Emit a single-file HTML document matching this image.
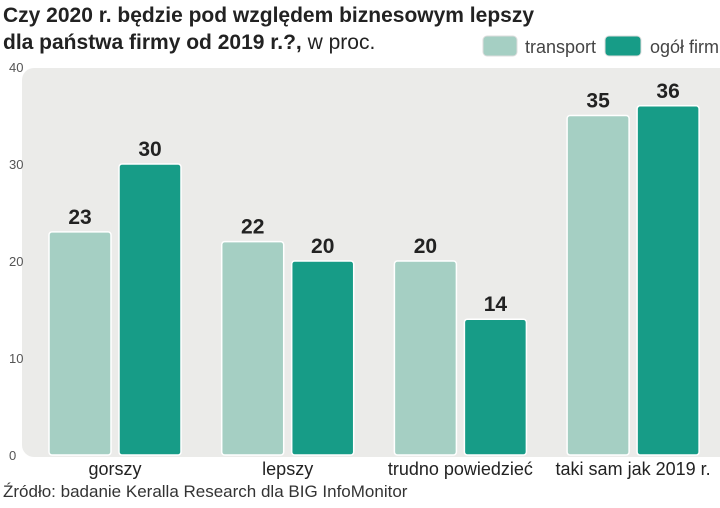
<!DOCTYPE html>
<html><head><meta charset="utf-8"><style>
body{margin:0;width:720px;height:503px;background:#fff;overflow:hidden;font-family:"Liberation Sans Narrow","Liberation Sans",sans-serif;}
svg text{font-family:"Liberation Sans Narrow","Liberation Sans",sans-serif;}
</style></head><body>
<svg width="720" height="503">
<text x="3" y="22" font-size="21" font-weight="bold" fill="#222">Czy 2020 r. będzie  pod względem biznesowym lepszy</text>
<text x="3" y="49" font-size="21" fill="#222"><tspan font-weight="bold">dla państwa firmy od 2019 r.?,</tspan> w proc.</text>
<g>
<rect x="483" y="36" width="34" height="20" rx="4" fill="#a5cfc3" stroke="#ddd"/>
<text x="525" y="53" font-size="18" fill="#444">transport</text>
<rect x="605" y="36" width="36" height="20" rx="4" fill="#179c87" stroke="#ddd"/>
<text x="650" y="53" font-size="18" fill="#444">ogół  firm</text>
</g>
<rect x="22" y="68" width="710" height="389" rx="12" fill="#ebebe9"/>
<g id="axis"></g><g id="bars"></g>
<text x="3" y="497" font-size="17" fill="#333">Źródło: badanie Keralla Research dla BIG InfoMonitor</text>
</svg>
<script>
const categories=["gorszy","lepszy","trudno powiedzieć","taki sam jak 2019 r."];
const transport=[23,22,20,35];
const ogolFirm=[30,20,14,36];
const ticks=[0,10,20,30,40];
const NS="http://www.w3.org/2000/svg";
const y=v=>455-v*9.7;
const gx=i=>49+i*172.7;
function mk(t,a,p){const e=document.createElementNS(NS,t);for(const k in a)e.setAttribute(k,a[k]);p.appendChild(e);return e;}
const ax=document.getElementById('axis'),bg=document.getElementById('bars');
ticks.forEach(t=>{const e=mk('text',{x:9,y:y(t)+5,'font-size':13,fill:'#555'},ax);e.textContent=t;

});
categories.forEach((c,i)=>{
 [[transport[i],'#a5cfc3',0,'transport'],[ogolFirm[i],'#179c87',70,'ogol-firm']].forEach(([v,col,off,nm])=>{
  const x=gx(i)+off;
  const r=mk('rect',{x:x,y:y(v),width:62,height:y(0)-y(v),rx:3,fill:col,stroke:'#fff','stroke-width':1.5},bg);
  
  
  const l=mk('text',{x:x+31,y:y(v)-8,'font-size':21,'font-weight':'bold','text-anchor':'middle',fill:'#222'},bg);
  l.textContent=v;
  
  
 });
 const t=mk('text',{x:gx(i)+66,y:475,'font-size':18,'text-anchor':'middle',fill:'#222'},bg);
 t.textContent=c;
 
 
});
</script>
</body></html>
